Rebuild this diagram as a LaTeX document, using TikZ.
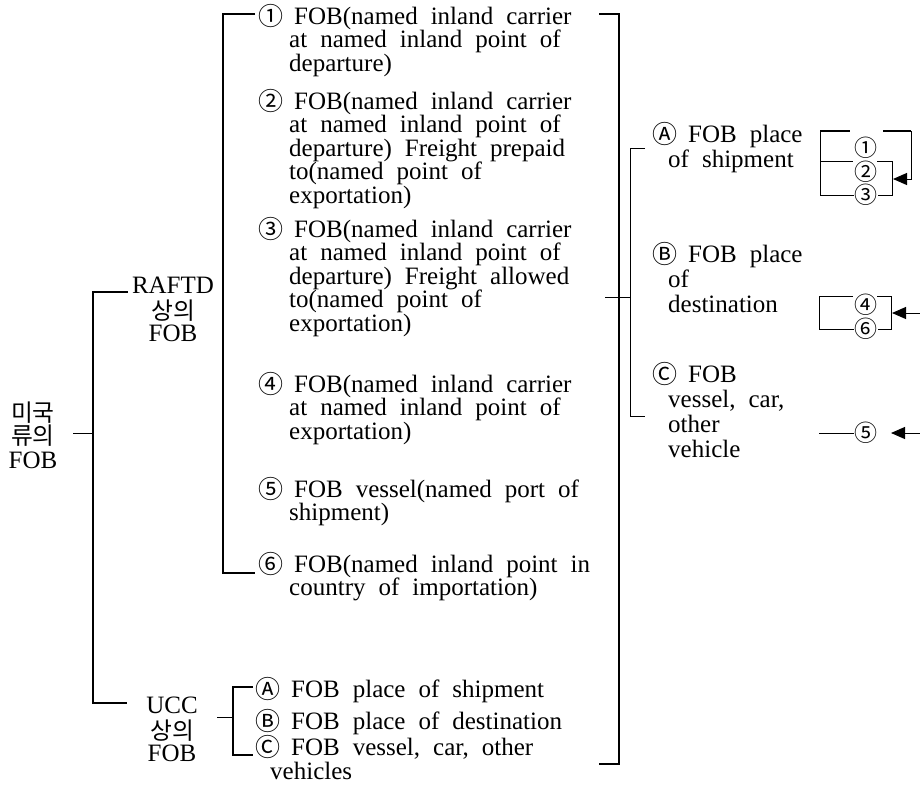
\documentclass[tikz,border=0pt]{standalone}
\usepackage{fontspec}
\setmainfont{Liberation Serif}
\newfontfamily\kr{Noto Sans CJK KR}[Scale=0.95]
\newfontfamily\cfont{Noto Sans CJK KR}[Scale=1.0]
\newcommand{\cn}[1]{\raisebox{-1.5pt}{\cfont #1}\hspace{11pt}\ignorespaces}
\newcommand{\hindA}{\hspace*{31pt}}
\newcommand{\hindB}{\hspace*{16pt}}
\newcommand{\widespaces}{\spaceskip=13pt plus 1pt minus 1pt\relax}
\usetikzlibrary{arrows.meta}
\begin{document}
\begin{tikzpicture}[x=1pt,y=-1pt,
  thickline/.style={line width=1.8pt},
  thinline/.style={line width=1pt},
  arrowline/.style={line width=1pt,-{Triangle[length=14pt,width=12pt]}},
  txt/.style={inner sep=0pt,anchor=base west,text width=360pt,align=left,
    font={\fontsize{25}{23.5}\selectfont\lineskiplimit=-50pt},
    execute at begin node={\widespaces}},
  rtxt/.style={txt,font={\fontsize{25}{25}\selectfont\lineskiplimit=-50pt}},
  utxt/.style={txt,font={\fontsize{25}{24}\selectfont\lineskiplimit=-50pt}},
  stack/.style={inner sep=0pt,anchor=base,text width=90pt,align=center,
    font={\fontsize{25}{23.5}\selectfont\lineskiplimit=-50pt}},
  circ/.style={inner sep=0pt,font={\fontsize{23}{23}\cfont}},
]
\useasboundingbox (0,0) rectangle (920,790);

% left labels
\node[stack,text width=80pt] (us) at (33,421) {{\kr 미국}\\{\kr 류의}\\FOB};
\node[stack] (raftd) at (173,293) {RAFTD\\[2.5pt]{\kr 상의}\\[-1.5pt]FOB};
\node[stack] (ucc) at (172,713) {UCC\\[2.5pt]{\kr 상의}\\[-1.5pt]FOB};

% trunk
\coordinate (trunkmid) at (93,433);
\coordinate (ttop) at (93,292);
\coordinate (tbot) at (93,703);
\draw[thinline] (us.east |- trunkmid) -- (trunkmid);
\draw[thickline] (raftd.west |- ttop) -- (ttop) -- (tbot) -- (ucc.west |- tbot);

% RAFTD items
\coordinate (mbt) at (223,14);
\coordinate (mbb) at (223,573);
\draw[thickline] (255,14) -- (mbt) -- (mbb) -- (255,573);

\node[txt] (i1) at (258,24) {\cn{①} FOB(named inland carrier\\\hindA at named inland point of\\\hindA departure)};
\node[txt] (i2) at (258,109) {\cn{②} FOB(named inland carrier\\\hindA at named inland point of\\\hindA departure) Freight prepaid\\\hindA to(named point of\\\hindA exportation)};
\node[txt] (i3) at (258,237) {\cn{③} FOB(named inland carrier\\\hindA at named inland point of\\\hindA departure) Freight allowed\\\hindA to(named point of\\\hindA exportation)};
\node[txt] (i4) at (258,392) {\cn{④} FOB(named inland carrier\\\hindA at named inland point of\\\hindA exportation)};
\node[txt] (i5) at (258,497) {\cn{⑤} FOB vessel(named port of\\\hindA shipment)};
\node[txt] (i6) at (258,572) {\cn{⑥} FOB(named inland point in\\\hindA country of importation)};

% UCC items
\coordinate (ubt) at (233,687);
\coordinate (ubb) at (233,755);
\draw[thinline] (ucc.east |- 0,717) -- (233,717);
\draw[thickline] (253,687) -- (ubt) -- (ubb) -- (253,755);
\node[utxt] (uA) at (255,697) {\cn{Ⓐ} FOB place of shipment};
\node[utxt] (uB) at (255,729) {\cn{Ⓑ} FOB place of destination};
\node[utxt] (uC) at (255,755) {\cn{Ⓒ} FOB vessel, car, other\\\hspace*{15pt}vehicles};

% big right bracket
\coordinate (rbt) at (619,14);
\coordinate (rbb) at (619,764);
\draw[thickline] (599,14) -- (rbt) -- (rbb) -- (599,764);
\draw[thinline] (605,297) -- (630,297);
\draw[thinline] (645,148) -- (630,148) -- (630,416) -- (645,416);

\node[rtxt] (rA) at (652,142) {\cn{Ⓐ} FOB place\\\hindB of shipment};
\node[rtxt] (rB) at (652,262) {\cn{Ⓑ} FOB place\\\hindB of\\\hindB destination};
\node[rtxt] (rC) at (652,382) {\cn{Ⓒ} FOB\\\hindB vessel, car,\\\hindB other\\\hindB vehicle};

% small bracket 1-2-3
\node[circ] (s1) at (866,148) {①};
\node[circ] (s2) at (866,172) {②};
\node[circ] (s3) at (866,195) {③};
\draw[thickline] (820,131) -- (850,131);
\draw[thickline] (883,131) -- (911,131);
\draw[arrowline] (911,131) -- (911,179) -- (893,179);
\draw[thinline] (820,131) -- (820,195) -- (s3.west);
\draw[thinline] (820,161) -- (853,161);
\draw[thinline] (877,161) -- (892,161) -- (892,195) -- (s3.east);

% small bracket 4-6
\node[circ] (s4) at (866,305) {④};
\node[circ] (s6) at (866,329) {⑥};
\draw[thinline] (853,296) -- (819,296) -- (819,329) -- (s6.west);
\draw[thinline] (877,296) -- (891,296) -- (891,329) -- (s6.east);
\draw[arrowline] (920,313) -- (892,313);

% 5
\node[circ] (s5) at (866,433) {⑤};
\draw[thinline] (819,433) -- (s5.west);
\draw[arrowline] (920,433) -- (891,433);
\end{tikzpicture}
\end{document}
